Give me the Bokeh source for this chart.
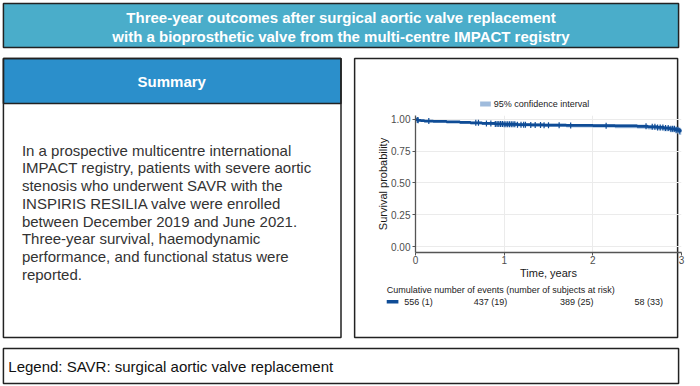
from bokeh.plotting import figure
from bokeh.models import (Range1d, BoxAnnotation, Label, GridBox, Spacer,
                          FixedTicker, NumeralTickFormatter, ColumnDataSource)
from bokeh.embed import file_html
from bokeh.resources import INLINE
import numpy as np

# ---- Kaplan-Meier estimate (time in years) ----
km_time = [0, 0.01, 0.03, 0.06, 0.1, 0.2, 0.35, 0.5, 0.62, 0.75, 0.9, 1.0, 1.15,
           1.3, 1.45, 1.7, 2.0, 2.25, 2.5, 2.62, 2.72, 2.8, 2.87, 2.93, 2.97, 3.0]
km_surv = [1.000, 0.996, 0.993, 0.990, 0.987, 0.985, 0.981, 0.977, 0.973, 0.969,
           0.965, 0.962, 0.959, 0.957, 0.955, 0.953, 0.951, 0.949, 0.946, 0.942,
           0.937, 0.932, 0.926, 0.919, 0.911, 0.903]
km_lower = [1.000, 0.992, 0.988, 0.984, 0.980, 0.977, 0.972, 0.967, 0.962, 0.957,
            0.952, 0.949, 0.945, 0.942, 0.940, 0.937, 0.934, 0.931, 0.927, 0.921,
            0.914, 0.907, 0.899, 0.889, 0.878, 0.867]
km_upper = [1.000, 0.999, 0.997, 0.995, 0.992, 0.991, 0.988, 0.985, 0.981, 0.978,
            0.974, 0.972, 0.969, 0.968, 0.966, 0.965, 0.963, 0.962, 0.960, 0.957,
            0.953, 0.949, 0.944, 0.938, 0.931, 0.924]

# censored observations
censor_time = [0.02, 0.03, 0.15, 0.68, 0.71, 0.8, 0.85, 0.9, 0.92, 0.94, 0.96, 0.98,
               1.0, 1.02, 1.04, 1.06, 1.08, 1.1, 1.12, 1.15, 1.19, 1.22, 1.24, 1.3,
               1.35, 1.41, 1.45, 1.5, 1.62, 1.75, 2.15, 2.6, 2.67, 2.7, 2.73, 2.76,
               2.79, 2.82, 2.85, 2.88, 2.9, 2.92, 2.94, 2.96, 2.98]

# risk table
risk_time = [0, 1, 2, 3]
at_risk = [556, 437, 389, 58]
events = [1, 19, 25, 33]

title_lines = ["Three-year outcomes after surgical aortic valve replacement",
               "with a bioprosthetic valve from the multi-centre IMPACT registry"]
summary_lines = ["In a prospective multicentre international",
                 "IMPACT registry, patients with severe aortic",
                 "stenosis who underwent SAVR with the",
                 "INSPIRIS RESILIA valve were enrolled",
                 "between December 2019 and June 2021.",
                 "Three-year survival, haemodynamic",
                 "performance, and functional status were",
                 "reported."]
legend_text = "Legend: SAVR: surgical aortic valve replacement"

FONT = "Liberation Sans"
DARK = "#0f4c96"
BAND = "#9fbbdc"
BORDER = "#222222"

W, H = 700, 386
# chart frame edges on the page
FL, FR, FT, FB = 415, 681, 115, 252
# chart figure placement on the page
CX, CY, CW, CH = 357, 52, 343, 292

# ---------------- background page: panels and texts ----------------
bg = figure(width=W, height=H, output_backend="svg", toolbar_location=None,
            x_range=Range1d(0, W), y_range=Range1d(H, 0), min_border=0,
            x_axis_type=None, y_axis_type=None, outline_line_color=None,
            background_fill_color="white", border_fill_color="white")
# time scale aligned with the chart frame, used by the risk table
bg.extra_x_ranges = {"time": Range1d((0 - FL) * 3 / (FR - FL), (W - FL) * 3 / (FR - FL))}


def box(left, right, top, bottom, fill=None, line=BORDER, lw=1.5):
    bg.add_layout(BoxAnnotation(left=left, right=right, top=top, bottom=bottom,
                                fill_color=fill, fill_alpha=1 if fill else 0,
                                line_color=line, line_width=lw,
                                line_alpha=1 if line else 0))


def label(x, y, text, size, color="#222222", align="left", bold=False,
          baseline="middle", xr="default"):
    bg.add_layout(Label(x=x, y=y, text=text, x_range_name=xr,
                        text_font=FONT, text_font_size=size, text_color=color,
                        text_align=align, text_baseline=baseline,
                        text_font_style="bold" if bold else "normal"))


# title banner
box(3, 697, 3, 47, fill="#4aadca")
label(350, 17, title_lines[0], "15px", color="white", align="center", bold=True)
label(350, 36, title_lines[1], "15px", color="white", align="center", bold=True)

# summary panel
box(3, 350, 58, 103, fill="#2b8fcb")
box(3, 350, 58, 337)
label(176, 81, "Summary", "15px", color="white", align="center", bold=True)
for i, line in enumerate(summary_lines):
    label(22, 149.5 + 17.75 * i, line, "15px", color="#333333", baseline="alphabetic")

# chart panel frame, key and risk table
box(364, 696, 58, 337)
box(493, 504, 101, 106, fill=BAND, line=None)
label(507, 103.5, "95% confidence interval", "9px")
label(397, 289, "Cumulative number of events (number of subjects at risk)", "9px")
box(397, 409, 299.5, 303, fill=DARK, line=None)
aligns = ["left", "center", "center", "right"]
for t, n, e, a in zip(risk_time, at_risk, events, aligns):
    label(t, 301.5, f"{n} ({e})", "9px", align=a, xr="time")

# footnote legend
box(3, 697, 348, 383)
label(8, 365.5, legend_text, "15px", color="#111111")

# ---------------- survival chart ----------------
p = figure(width=CW, height=CH, output_backend="svg", toolbar_location=None,
           x_range=Range1d(0, 3), y_range=Range1d(-0.047, 1.031),
           min_border_left=FL - CX, min_border_right=CX + CW - FR,
           min_border_top=FT - CY, min_border_bottom=CY + CH - FB,
           background_fill_alpha=0, border_fill_alpha=0,
           outline_line_color=None)

src = ColumnDataSource(dict(t=km_time, s=km_surv, lo=km_lower, hi=km_upper))
p.varea_step(x="t", y1="lo", y2="hi", step_mode="after", source=src,
             fill_color=BAND, fill_alpha=0.85)
p.step("t", "s", mode="after", source=src, line_color=DARK, line_width=2.8)

idx = np.searchsorted(np.array(km_time), np.array(censor_time), side="right") - 1
censor_surv = np.array(km_surv)[idx]
p.scatter(censor_time, censor_surv, marker="cross", size=6, line_color=DARK,
          line_width=1.2)

p.xaxis.ticker = FixedTicker(ticks=[0, 1, 2, 3])
p.yaxis.ticker = FixedTicker(ticks=[0, 0.25, 0.5, 0.75, 1.0])
p.yaxis.formatter = NumeralTickFormatter(format="0.00")
p.xaxis.axis_label = "Time, years"
p.yaxis.axis_label = "Survival probability"
for ax in (p.xaxis, p.yaxis):
    ax.axis_line_color = "#555555"
    ax.axis_line_width = 1.3
    ax.major_tick_line_color = "#555555"
    ax.major_tick_out = 3
    ax.major_tick_in = 0
    ax.minor_tick_out = 0
    ax.minor_tick_in = 0
    ax.major_label_text_font = FONT
    ax.major_label_text_font_size = "10px"
    ax.major_label_text_color = "#4d4d4d"
    ax.axis_label_text_font = FONT
    ax.axis_label_text_font_size = "11px"
    ax.axis_label_text_font_style = "normal"
    ax.axis_label_text_color = "#1a1a1a"
p.xaxis.major_label_standoff = 0
p.xaxis.axis_label_standoff = 0
p.yaxis.major_label_standoff = 2
p.yaxis.axis_label_standoff = -1
p.xgrid.grid_line_color = "#ebebeb"
p.ygrid.grid_line_color = "#ebebeb"

# stack the chart over the background page
root = GridBox(children=[
    (bg, 0, 0, 3, 2),
    (Spacer(width=CX, height=CY), 0, 0),
    (p, 1, 1),
    (Spacer(width=CX, height=H - CY - CH), 2, 0),
], spacing=0)

open("out.html", "w").write(file_html(root, INLINE))
